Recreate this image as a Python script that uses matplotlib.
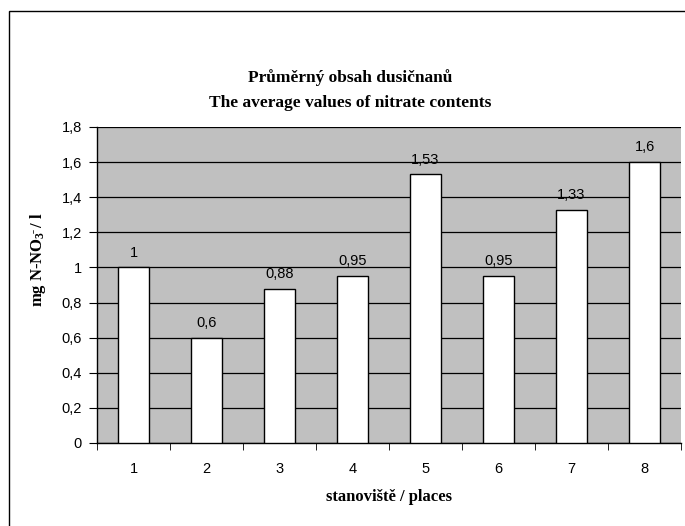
import numpy as np
import matplotlib.pyplot as plt
from matplotlib.patches import Rectangle

places = ["1", "2", "3", "4", "5", "6", "7", "8"]
values = [1.0, 0.6, 0.88, 0.95, 1.53, 0.95, 1.33, 1.6]
labels = ["1", "0,6", "0,88", "0,95", "1,53", "0,95", "1,33", "1,6"]
yticks = [0, 0.2, 0.4, 0.6, 0.8, 1.0, 1.2, 1.4, 1.6, 1.8]
ytick_labels = ["0", "0,2", "0,4", "0,6", "0,8", "1", "1,2", "1,4", "1,6", "1,8"]

plt.rcParams['mathtext.fontset'] = 'custom'
plt.rcParams['mathtext.rm'] = 'Liberation Serif:bold'
plt.rcParams['mathtext.it'] = 'Liberation Serif:bold'

fig = plt.figure(figsize=(6.85, 5.26), dpi=100)
# outer chart frame (only left and top edges fall inside the picture)
fig.patches.append(Rectangle((9 / 685, -10 / 526), 690 / 685, 525 / 526,
                             transform=fig.transFigure, fill=False,
                             edgecolor='black', linewidth=1.0))

ax = fig.add_axes([97 / 685, 83 / 526, 584 / 685, 316 / 526])
ax.set_facecolor('#c0c0c0')

x = np.arange(len(places))
ax.bar(x, values, width=0.42, color='white', edgecolor='black', linewidth=1.0, zorder=3)
for xi, v, lab in zip(x, values, labels):
    ax.text(xi, v + 0.045, lab, ha='center', va='bottom',
            fontsize=10.5, family='Liberation Sans')

ax.set_xlim(-0.5, len(places) - 0.5)
ax.set_ylim(0, 1.8)
ax.set_yticks(yticks)
ax.set_yticklabels(ytick_labels, family='Liberation Sans', fontsize=10.5)
ax.yaxis.grid(True, color='black', linewidth=0.9, zorder=1)
ax.set_axisbelow(True)

ax.set_xticks(x)
ax.set_xticklabels(places, family='Liberation Sans', fontsize=10.5)
ax.set_xticks(np.arange(-0.5, len(places)), minor=True)
ax.tick_params(axis='x', which='major', length=0, pad=14)
ax.tick_params(axis='x', which='minor', length=5, direction='out', color='black')
ax.tick_params(axis='y', length=6, direction='out', pad=5)

for side in ['top', 'right']:
    ax.spines[side].set_visible(False)
ax.spines['left'].set_linewidth(1.0)
ax.spines['bottom'].set_linewidth(1.0)

ax.set_xlabel("stanoviště / places", family='Liberation Serif', fontweight='bold',
              fontsize=12, labelpad=9)
ax.set_ylabel(r"mg N-NO$_3$$^{\bar{}}$ / l", family='Liberation Serif', fontweight='bold',
              fontsize=12)
ax.yaxis.set_label_coords(-0.084, 0.58)

fig.text(350 / 685, 1 - 78 / 526, "Průměrný obsah dusičnanů", ha='center', va='center',
         family='Liberation Serif', fontweight='bold', fontsize=12.5)
fig.text(350 / 685, 1 - 103 / 526, "The average values of nitrate contents", ha='center',
         va='center', family='Liberation Serif', fontweight='bold', fontsize=12.5)

fig.savefig("out.png", dpi=100)
